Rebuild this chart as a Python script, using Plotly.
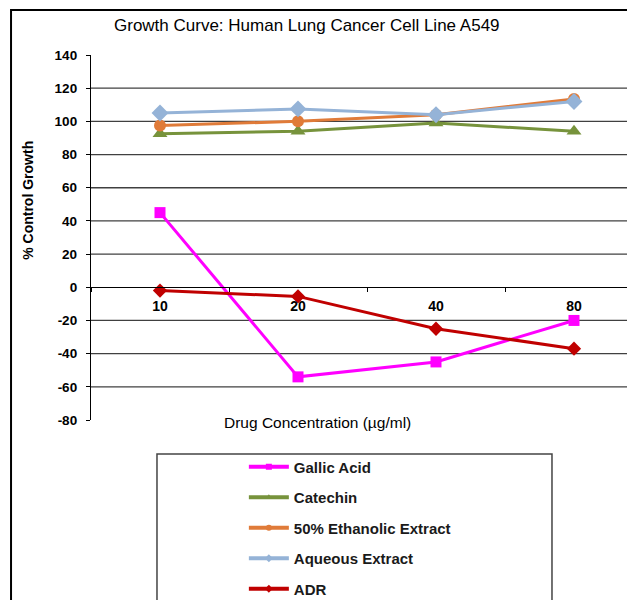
import plotly.graph_objects as go

concentrations = ["10", "20", "40", "80"]
gallic_acid = [45, -54, -45, -20]
catechin = [92.5, 94, 99, 94]
ethanolic = [97.5, 100, 104, 113.5]
aqueous = [105, 107.5, 104, 112]
adr = [-2, -5.5, -25, -37]

y_ticks = [140, 120, 100, 80, 60, 40, 20, 0, -20, -40, -60, -80]
y_tick_labels = ["140", "120", "100", "80", "60", "40", "20", "0", "-20", "-40", "-60", "-80"]
grid_vals = [120, 100, 80, 60, 40, 20, -20, -40, -60]

series = [
    ("Gallic Acid", gallic_acid, "#FF00FF", "square", 11),
    ("Catechin", catechin, "#77933C", "triangle-up", 13),
    ("50% Ethanolic Extract", ethanolic, "#E07B39", "circle", 12),
    ("Aqueous Extract", aqueous, "#95B3D7", "diamond", 13),
    ("ADR", adr, "#C00000", "diamond", 11),
]

FONT = "Arial, Liberation Sans, sans-serif"

fig = go.Figure()
for i, (name, vals, color, sym, size) in enumerate(series):
    fig.add_trace(go.Scatter(
        x=concentrations, y=vals, name=name, mode="lines+markers",
        line=dict(color=color, width=3),
        marker=dict(symbol=sym, size=size, color=color),
        showlegend=False,
    ))
# legend-only entries with small markers
for i, (name, vals, color, sym, size) in enumerate(series):
    fig.add_trace(go.Scatter(
        x=[None], y=[None], name=name, mode="lines+markers",
        line=dict(color=color, width=4),
        marker=dict(symbol=sym, size=6, color=color),
        legendgroup=f"g{i}", showlegend=True,
    ))

shapes = []
for v in grid_vals:
    shapes.append(dict(type="line", xref="paper", x0=0, x1=1, yref="y", y0=v, y1=v,
                       line=dict(color="#404040", width=1.3), layer="below"))
# outer border
shapes.append(dict(type="rect", xref="paper", yref="paper", x0=-0.147, x1=1.2, y0=-0.7, y1=1.1233,
                   line=dict(color="black", width=2)))
# legend box
shapes.append(dict(type="rect", xref="paper", yref="paper", x0=0.1213, x1=0.8474, y0=-0.7, y1=-0.093,
                   line=dict(color="#444444", width=1.5)))

fig.update_layout(
    width=627, height=592,
    margin=dict(l=83, r=0, t=47, b=180, autoexpand=False),
    paper_bgcolor="white", plot_bgcolor="white",
    font=dict(family=FONT, color="black"),
    showlegend=True,
    legend=dict(x=0.281, y=-0.0836, xanchor="left", yanchor="top",
                font=dict(family=FONT, size=15, color="#1a1a1a", weight="bold"),
                traceorder="grouped", tracegroupgap=8, itemwidth=40,
                bgcolor="rgba(0,0,0,0)"),
    xaxis=dict(type="category", range=[-0.5, 3.442], anchor="free", position=80 / 220,
               showline=True, linecolor="black", linewidth=1.3,
               ticks="outside", tickson="boundaries", ticklen=4, tickcolor="black",
               showgrid=False, zeroline=False, ticklabelstandoff=6,
               tickfont=dict(family=FONT, size=14, weight="bold")),
    yaxis=dict(range=[-80, 140], tickvals=y_ticks, ticktext=y_tick_labels,
               showgrid=False, zeroline=False,
               showline=True, linecolor="black", linewidth=1.3,
               ticks="outside", ticklen=4, tickcolor="black", ticklabelstandoff=6,
               tickfont=dict(family=FONT, size=13.5, weight="bold")),
    shapes=shapes,
    annotations=[
        dict(text="Growth Curve: Human Lung Cancer Cell Line A549", xref="paper", yref="paper",
             x=0.397, y=1.082, showarrow=False, xanchor="center", yanchor="middle",
             font=dict(family=FONT, size=17)),
        dict(text="% Control Growth", xref="paper", yref="paper", x=-0.116, y=0.603,
             textangle=-90, showarrow=False, xanchor="center", yanchor="middle",
             font=dict(family=FONT, size=14, weight="bold")),
        dict(text="Drug Concentration (µg/ml)", xref="paper", yref="paper", x=0.417, y=-0.008,
             showarrow=False, xanchor="center", yanchor="middle",
             font=dict(family=FONT, size=15.5)),
    ],
)

fig.write_html("out.html")
